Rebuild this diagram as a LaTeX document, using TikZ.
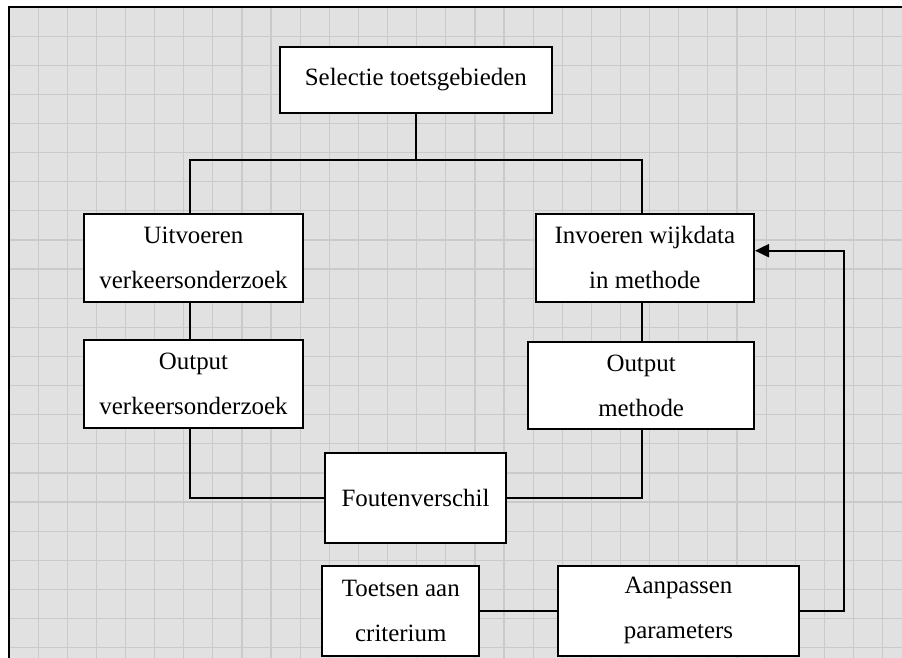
\documentclass[tikz,border=0pt]{standalone}
\usepackage{fontspec}
\setmainfont{Liberation Serif}
\usetikzlibrary{arrows.meta}
\definecolor{bggray}{RGB}{225,225,225}
\definecolor{gridgray}{RGB}{202,202,202}
\tikzset{
  box/.style={draw=black, fill=white, line width=1pt, inner sep=0pt, align=center,
    font=\fontsize{12.45}{22.5}\selectfont},
  conn/.style={draw=black, line width=1pt},
  gridline/.style={draw=gridgray, line width=0.6pt}
}
\begin{document}
\begin{tikzpicture}[x=0.5pt,y=-0.5pt]
\useasboundingbox (0,0) rectangle (902,658);
\fill[white] (0,0) rectangle (902,658);
\fill[bggray] (9,7) rectangle (902,658);
\foreach \i in {1,...,30} \draw[gridline] ({9+\i*29.12},7) -- ({9+\i*29.12},658);
\foreach \i in {1,...,22} \draw[gridline] (9,{7+\i*29.12}) -- (902,{7+\i*29.12});
\draw[line width=1pt] (9,658) -- (9,7) -- (902,7);

\node[box, minimum width=135.85pt, minimum height=32.7pt] (sel) at (415.85,80) {Selectie toetsgebieden};
\node[box, minimum width=109.2pt, minimum height=43.85pt] (uit) at (193.5,257.85) {Uitvoeren\\verkeersonderzoek};
\node[box, minimum width=109.2pt, minimum height=44.15pt] (outv) at (193.5,384.15) {Output\\verkeersonderzoek};
\node[box, minimum width=109.15pt, minimum height=43.85pt] (inv) at (644.85,257.85) {Invoeren wijkdata\\in methode};
\node[box, minimum width=112.85pt, minimum height=43.5pt] (outm) at (641.15,385.8) {Output\\methode};
\node[box, minimum width=90.5pt, minimum height=45pt] (fout) at (415.5,498.3) {Foutenverschil};
\node[box, minimum width=78.5pt, minimum height=45pt] (toets) at (400.8,610.7) {Toetsen aan\\criterium};
\node[box, minimum width=120.8pt, minimum height=45pt] (aanp) at (678.5,610.7) {Aanpassen\\parameters};

\coordinate (jl) at (190,160);
\coordinate (jr) at (641.7,160);
\coordinate (fb) at (844,250.7);

\draw[conn] (sel.south) -- (sel.south |- jl);
\draw[conn] (uit.north -| jl) -- (jl) -- (jr) -- (inv.north -| jr);
\draw[conn] (uit.south -| jl) -- (outv.north -| jl);
\draw[conn] (inv.south -| jr) -- (outm.north -| jr);
\draw[conn] (outv.south -| jl) |- (fout.west);
\draw[conn] (fout.east) -| (outm.south -| jr);
\draw[conn] (toets.east) -- (aanp.west);
\draw[conn, -{Triangle[length=7pt,width=6.5pt]}] (aanp.east) -| (fb) -- (fb -| inv.east);
\end{tikzpicture}
\end{document}
